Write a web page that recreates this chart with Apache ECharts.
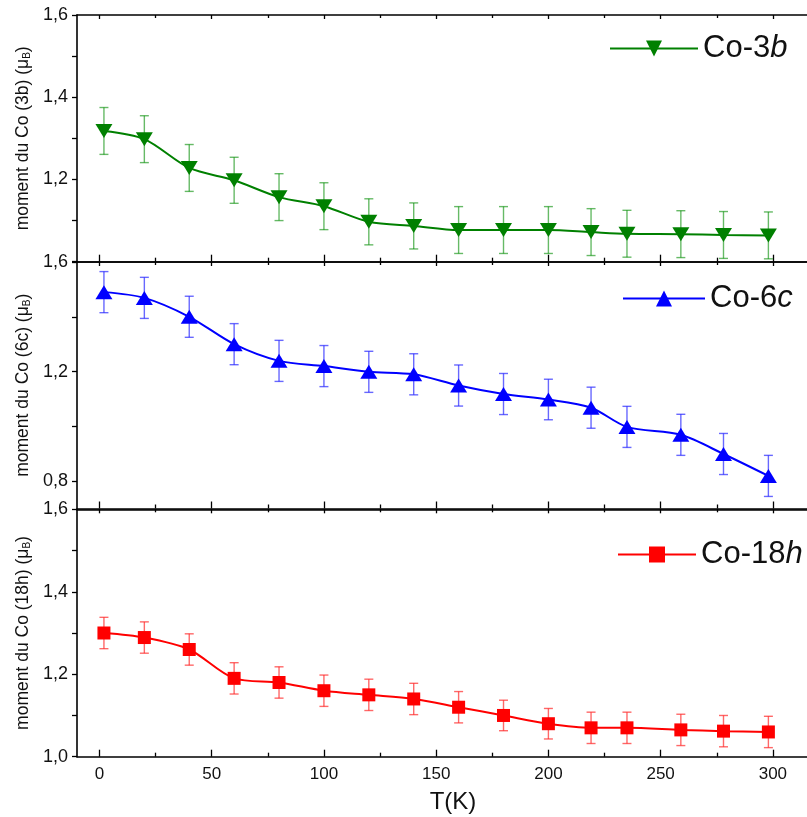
<!DOCTYPE html>
<html>
<head>
<meta charset="utf-8">
<script src="https://cdn.jsdelivr.net/npm/echarts@6/dist/echarts.min.js"></script>
<style>
html,body{margin:0;padding:0;background:#fff;}
#chart{width:807px;height:817px;}
</style>
</head>
<body>
<div id="chart"></div>
<script>
// ---------- data ----------
const T = [2, 20, 40, 60, 80, 100, 120, 140, 160, 180, 200, 219, 235, 259, 278, 298];
const co3b = [1.318, 1.298, 1.228, 1.198, 1.157, 1.135, 1.097, 1.087, 1.077, 1.077, 1.077, 1.072, 1.068, 1.067, 1.065, 1.064];
const co3bErr = [0.057, 0.057, 0.057, 0.056, 0.057, 0.057, 0.056, 0.056, 0.057, 0.057, 0.057, 0.057, 0.057, 0.057, 0.057, 0.057];
const co6c = [1.490, 1.469, 1.400, 1.300, 1.239, 1.220, 1.199, 1.190, 1.149, 1.118, 1.098, 1.068, 0.998, 0.969, 0.899, 0.819];
const co6cErr = [0.075, 0.075, 0.075, 0.075, 0.075, 0.075, 0.075, 0.075, 0.075, 0.075, 0.074, 0.075, 0.075, 0.075, 0.075, 0.075];
const co18h = [1.300, 1.289, 1.260, 1.190, 1.180, 1.160, 1.150, 1.140, 1.120, 1.100, 1.080, 1.070, 1.070, 1.065, 1.062, 1.060];
const co18hErr = [0.038, 0.038, 0.038, 0.038, 0.038, 0.038, 0.038, 0.038, 0.038, 0.037, 0.037, 0.038, 0.038, 0.038, 0.038, 0.038];

const xMajorTicks = [0, 50, 100, 150, 200, 250, 300];
const xMinorTicks = [25, 75, 125, 175, 225, 275];
const yTicksTop = [1.0, 1.1, 1.2, 1.3, 1.4, 1.5, 1.6];
const yLabelsTop = [1.2, 1.4, 1.6];
const yTicksMid = [0.8, 1.0, 1.2, 1.4, 1.6];
const yLabelsMid = [0.8, 1.2, 1.6];
const yTicksBot = [1.0, 1.1, 1.2, 1.3, 1.4, 1.5, 1.6];
const yLabelsBot = [1.0, 1.2, 1.4, 1.6];

const xRange = [-10, 325];
const yRangeTop = [1.0, 1.6];
const yRangeMid = [0.7, 1.6];
const yRangeBot = [1.0, 1.6];

// ---------- build ----------
const FONT = "'Liberation Sans', Arial, sans-serif";
const chart = echarts.init(document.getElementById('chart'));

const grids = [
  {left: 77, width: 752, top: 15, height: 246.7, outerBoundsMode: 'none'},
  {left: 77, width: 752, top: 262, height: 246.5, outerBoundsMode: 'none'},
  {left: 77, width: 752, top: 509.3, height: 247.4, outerBoundsMode: 'none'}
];

const xAxes = [];
function addX(gi, position, values, len, showLine, labels) {
  xAxes.push({
    type: 'value', gridIndex: gi, position: position,
    min: xRange[0], max: xRange[1],
    axisLine: {show: showLine, onZero: false, lineStyle: {color: '#000', width: 1.6}},
    axisTick: {show: true, inside: true, length: len, customValues: values, lineStyle: {color: '#000', width: 1.3}},
    axisLabel: labels ? {show: true, customValues: xMajorTicks, fontSize: 17, fontFamily: FONT, color: '#111', margin: 9} : {show: false},
    splitLine: {show: false},
    name: labels ? 'T(K)' : '',
    nameLocation: 'middle', nameGap: 34,
    nameTextStyle: {fontSize: 24, fontFamily: FONT, color: '#111'}
  });
  return xAxes.length - 1;
}
const mainX = [];
for (let g = 0; g < 3; g++) {
  mainX.push(addX(g, 'bottom', xMajorTicks, 7, true, g === 2));
  addX(g, 'bottom', xMinorTicks, 4, false, false);
  addX(g, 'top', xMajorTicks, 4, true, false);
  addX(g, 'top', xMinorTicks, 3, false, false);
}

function fmt(v) { return v.toFixed(1).replace('.', ','); }
function yAxis(gi, range, ticks, labels, label) {
  return {
    type: 'value', gridIndex: gi, min: range[0], max: range[1],
    axisLine: {show: true, onZero: false, lineStyle: {color: '#000', width: 1.6}},
    axisTick: {show: true, inside: false, length: 5, customValues: ticks, lineStyle: {color: '#000', width: 1.3}},
    axisLabel: {show: true, customValues: labels, formatter: fmt, fontSize: 18, fontFamily: FONT, color: '#111', margin: 9},
    splitLine: {show: false},
    name: label, nameLocation: 'middle', nameGap: 44,
    nameTextStyle: {fontSize: 17.5, fontFamily: FONT, color: '#111',
      rich: {s: {fontSize: 10, fontFamily: FONT, color: '#111', verticalAlign: 'bottom', padding: [8, 0, 0, 0]}}}
  };
}
const yAxes = [
  yAxis(0, yRangeTop, yTicksTop, yLabelsTop, 'moment du Co (3b) (μ{s|B})'),
  yAxis(1, yRangeMid, yTicksMid, yLabelsMid, 'moment du Co (6c) (μ{s|B})'),
  yAxis(2, yRangeBot, yTicksBot, yLabelsBot, 'moment du Co (18h) (μ{s|B})')
];

function pairs(vals) { return T.map((t, i) => [t, vals[i]]); }
function errData(vals, errs) { return T.map((t, i) => [t, vals[i], errs[i]]); }

function errSeries(gi, vals, errs, color) {
  return {
    type: 'custom', xAxisIndex: mainX[gi], yAxisIndex: gi, z: 1,
    data: errData(vals, errs), encode: {x: 0, y: 1}, silent: true,
    renderItem: function (params, api) {
      const x = api.value(0), y = api.value(1), e = api.value(2);
      const top = api.coord([x, y + e]);
      const bot = api.coord([x, y - e]);
      const hw = 4.5;
      const st = {stroke: color, lineWidth: 1.4};
      return {type: 'group', children: [
        {type: 'line', shape: {x1: top[0], y1: top[1], x2: bot[0], y2: bot[1]}, style: st},
        {type: 'line', shape: {x1: top[0] - hw, y1: top[1], x2: top[0] + hw, y2: top[1]}, style: st},
        {type: 'line', shape: {x1: bot[0] - hw, y1: bot[1], x2: bot[0] + hw, y2: bot[1]}, style: st}
      ]};
    }
  };
}
function lineSeries(gi, name, vals, color, symbol, size, rot) {
  return {
    type: 'line', name: name, xAxisIndex: mainX[gi], yAxisIndex: gi, z: 3,
    data: pairs(vals), smooth: 0.3,
    symbol: symbol, symbolSize: size, symbolRotate: rot || 0,
    itemStyle: {color: color}, lineStyle: {color: color, width: 2},
    emphasis: {disabled: true}
  };
}

const series = [
  errSeries(0, co3b, co3bErr, 'rgba(0,140,0,0.6)'),
  lineSeries(0, 'Co-3b', co3b, '#008000', 'triangle', [17, 14], 180),
  errSeries(1, co6c, co6cErr, 'rgba(40,40,255,0.7)'),
  lineSeries(1, 'Co-6c', co6c, '#0000ff', 'triangle', [17, 14]),
  errSeries(2, co18h, co18hErr, 'rgba(255,40,40,0.7)'),
  lineSeries(2, 'Co-18h', co18h, '#ff0000', 'rect', [13, 13])
];

function legend(name, left, top, w, fmtStr) {
  return {
    data: [name], left: left, top: top, itemWidth: w, itemHeight: 20, itemGap: 0,
    selectedMode: false,
    formatter: function () { return fmtStr; },
    textStyle: {fontSize: 31, fontFamily: FONT, color: '#111',
      rich: {i: {fontSize: 31, fontFamily: FONT, fontStyle: 'italic', color: '#111'}}}
  };
}

chart.setOption({
  animation: false,
  backgroundColor: '#fff',
  grid: grids,
  xAxis: xAxes,
  yAxis: yAxes,
  legend: [
    legend('Co-3b', 604, 28, 88, 'Co-3{i|b}'),
    legend('Co-6c', 617, 278, 82, 'Co-6{i|c}'),
    legend('Co-18h', 612, 534, 78, 'Co-18{i|h}')
  ],
  series: series
});
</script>
</body>
</html>
